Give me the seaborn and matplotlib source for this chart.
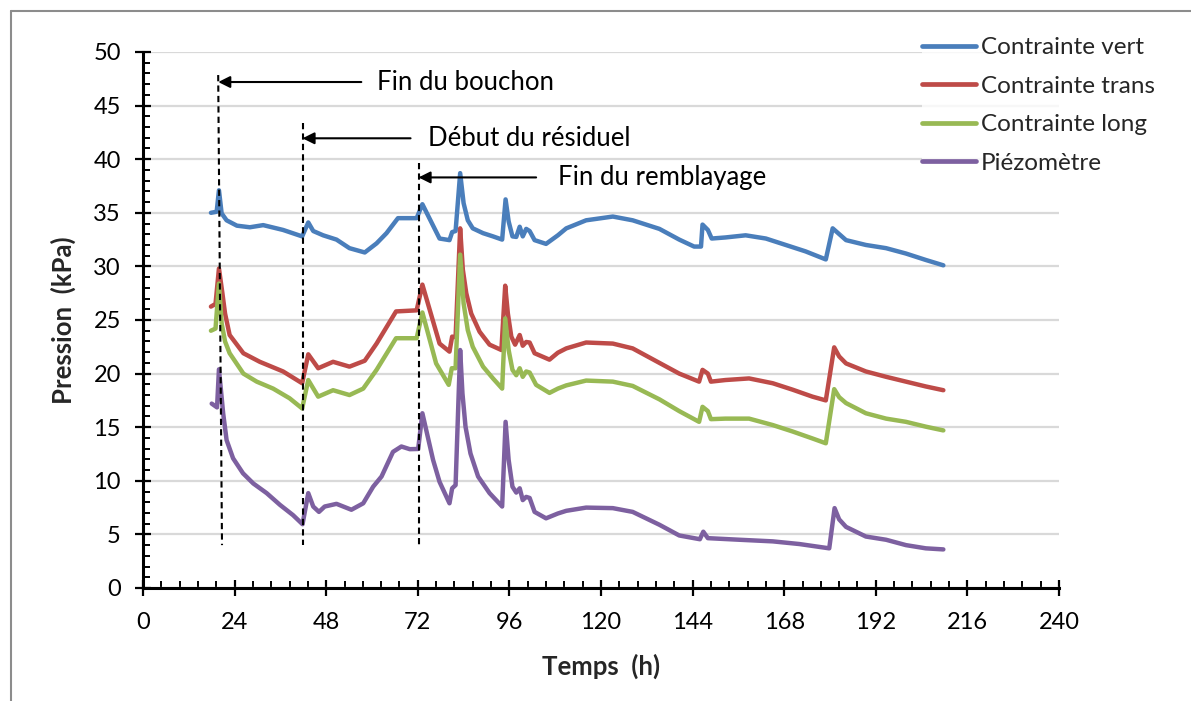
import numpy as np
import pandas as pd
import matplotlib
matplotlib.use("Agg")
import matplotlib.pyplot as plt
from matplotlib.lines import Line2D
from matplotlib.ticker import MultipleLocator
import seaborn as sns

# Time (h) and pressure (kPa) for each sensor
t_vert = [17.8, 19.3, 19.9, 20.6, 21.9, 24.6, 28.0, 31.5, 36.7, 41.7, 43.3, 44.6, 47.2, 50.7,
          54.1, 58.1, 61.2, 63.8, 66.8, 71.7, 73.2, 77.7, 80.3, 81.0, 81.9, 83.1, 84.0, 85.1,
          86.4, 89.1, 91.7, 94.1, 95.0, 95.8, 96.8, 97.8, 98.7, 99.5, 100.4, 101.3, 102.6,
          105.6, 108.7, 110.9, 116.1, 123.1, 128.3, 135.3, 140.5, 144.4, 146.2, 146.6, 148.0,
          149.0, 152.6, 157.9, 163.2, 168.4, 173.6, 178.9, 180.7, 184.2, 189.4, 194.7, 199.9,
          205.1, 209.7]
p_vert = [35.0, 35.1, 37.1, 34.95, 34.3, 33.8, 33.65, 33.85, 33.4, 32.8, 34.1, 33.3, 32.9, 32.5,
          31.7, 31.3, 32.15, 33.1, 34.5, 34.5, 35.8, 32.6, 32.45, 33.2, 33.3, 38.7, 35.9, 34.3,
          33.55, 33.1, 32.8, 32.5, 36.25, 34.2, 32.8, 32.75, 33.7, 32.8, 33.5, 33.3, 32.45,
          32.1, 32.9, 33.55, 34.3, 34.65, 34.3, 33.5, 32.5, 31.85, 31.85, 33.9, 33.4,
          32.6, 32.7, 32.9, 32.6, 32.0, 31.4, 30.65, 33.55, 32.45, 32.0, 31.7, 31.2,
          30.6, 30.1]

t_trans = [17.8, 19.0, 19.9, 20.8, 21.5, 22.7, 26.3, 30.6, 36.7, 41.7, 43.3, 45.9, 49.8, 54.1,
           58.1, 61.2, 66.3, 71.7, 73.2, 77.7, 80.3, 81.0, 81.9, 83.1, 83.8, 84.7, 86.0, 88.2,
           90.8, 93.9, 94.9, 95.6, 96.5, 97.5, 98.7, 99.5, 100.4, 101.3, 102.6, 106.5, 108.7,
           110.9, 116.1, 123.1, 128.3, 135.3, 140.5, 145.7, 146.6, 148.0, 148.8, 152.6, 158.8,
           165.0, 170.2, 175.4, 178.9, 181.1, 182.4, 184.2, 189.4, 194.7, 199.9, 205.1, 209.7]
p_trans = [26.25, 26.5, 29.8, 27.5, 25.6, 23.6, 21.9, 21.1, 20.2, 19.1, 21.8, 20.5, 21.1, 20.65,
           21.2, 22.8, 25.8, 25.9, 28.3, 22.8, 22.05, 23.45, 23.4, 33.55, 29.7, 27.5, 25.6, 23.9,
           22.7, 22.2, 28.2, 25.6, 23.45, 22.7, 23.6, 22.6, 22.95, 22.9, 21.9, 21.3, 21.95,
           22.35, 22.9, 22.8, 22.35, 21.0, 20.0, 19.25, 20.35, 20.0, 19.25, 19.4, 19.55,
           19.1, 18.5, 17.85, 17.5, 22.45, 21.6, 20.95, 20.2, 19.7, 19.25, 18.8, 18.45]

t_long = [17.8, 19.0, 19.9, 20.6, 21.5, 22.7, 26.3, 29.8, 34.1, 38.4, 41.7, 43.3, 45.9, 49.8,
          54.1, 57.7, 61.2, 66.3, 71.7, 73.2, 76.8, 80.1, 80.9, 81.9, 83.1, 84.0, 85.1, 86.4,
          89.1, 91.7, 94.1, 94.9, 95.8, 96.8, 97.8, 98.7, 99.5, 100.4, 101.3, 103.0, 106.5,
          108.7, 110.9, 116.1, 123.1, 128.3, 135.3, 140.5, 145.7, 146.6, 148.0, 148.8, 152.6,
          158.8, 165.0, 170.2, 175.4, 178.9, 181.1, 182.4, 184.2, 189.4, 194.7, 199.9, 205.1,
          209.7]
p_long = [24.0, 24.2, 28.4, 24.7, 23.0, 21.9, 20.0, 19.25, 18.6, 17.7, 16.75, 19.4, 17.85, 18.45,
          18.0, 18.6, 20.35, 23.3, 23.3, 25.7, 20.95, 18.95, 20.5, 20.5, 31.1, 26.55, 24.05, 22.5,
          20.65, 19.55, 18.6, 25.15, 22.2, 20.35, 19.85, 20.5, 19.7, 20.2, 20.1, 18.95, 18.2,
          18.6, 18.9, 19.35, 19.25, 18.85, 17.6, 16.5, 15.5, 16.9, 16.5, 15.75, 15.8,
          15.8, 15.2, 14.6, 13.95, 13.5, 18.55, 17.8, 17.25, 16.3, 15.8, 15.5, 15.05,
          14.7]

t_piezo = [18.0, 19.4, 19.9, 21.0, 21.9, 23.6, 26.2, 28.9, 32.4, 35.9, 39.3, 41.8, 43.3, 44.6,
           46.1, 47.6, 50.7, 54.6, 57.7, 60.3, 62.5, 65.5, 67.7, 69.9, 72.1, 73.2, 76.0, 77.7,
           80.3, 81.0, 81.9, 83.1, 83.7, 84.5, 85.8, 87.8, 90.8, 94.1, 95.0, 95.8, 96.8, 97.8,
           98.7, 99.5, 100.4, 101.3, 102.6, 105.6, 108.7, 110.9, 116.1, 123.1, 128.3, 135.3,
           140.5, 145.9, 146.8, 148.0, 156.3, 165.0, 172.0, 179.8, 181.2, 182.4, 184.2, 189.4,
           194.7, 199.9, 205.1, 209.7]
p_piezo = [17.2, 16.85, 20.4, 16.3, 13.8, 12.1, 10.7, 9.75, 8.85, 7.75, 6.8, 5.95, 8.85, 7.6,
           7.1, 7.6, 7.85, 7.3, 7.9, 9.45, 10.4, 12.7, 13.2, 12.95, 12.97, 16.3, 11.95, 9.9,
           7.9, 9.3, 9.6, 22.2, 18.15, 15.05, 12.55, 10.4, 8.85, 7.6, 15.5, 11.95, 9.45, 8.9,
           9.3, 8.2, 8.5, 8.4, 7.1, 6.5, 6.95, 7.2, 7.5, 7.45, 7.1, 5.9,
           4.9, 4.55, 5.25, 4.65, 4.5, 4.35, 4.1, 3.7, 7.45, 6.4, 5.7, 4.8,
           4.5, 4.0, 3.7, 3.6]

series_names = ["Contrainte vert", "Contrainte trans", "Contrainte long", "Piézomètre"]
series_colors = ["#4A7EBB", "#BE4B48", "#98B954", "#7D60A0"]

frames = []
for name, t, p in zip(series_names,
                      [t_vert, t_trans, t_long, t_piezo],
                      [p_vert, p_trans, p_long, p_piezo]):
    frames.append(pd.DataFrame({"Temps": t, "Pression": p, "Série": name}))
df = pd.concat(frames, ignore_index=True)

sns.set_style("white")
plt.rcParams["font.family"] = ["Lato", "DejaVu Sans"]
FS_TICK = 17
FS_TEXT = 18.5
FS_LEG = 17.5

fig = plt.figure(figsize=(11.91, 7.01), dpi=100)
ax = fig.add_axes([143 / 1191, 1 - 588 / 701, (1059 - 143) / 1191, (588 - 52) / 701])

sns.lineplot(data=df, x="Temps", y="Pression", hue="Série", hue_order=series_names,
             palette=series_colors, estimator=None, sort=False, lw=3.2, ax=ax, zorder=3)

ax.set_xlim(0, 240)
ax.set_ylim(0, 50)
ax.xaxis.set_major_locator(MultipleLocator(24))
ax.xaxis.set_minor_locator(MultipleLocator(4.8))
ax.yaxis.set_major_locator(MultipleLocator(5))
ax.yaxis.set_minor_locator(MultipleLocator(1))

ax.set_axisbelow(True)
ax.yaxis.grid(True, which="major", color="#D9D9D9", lw=1.6)
ax.xaxis.grid(False)

for s in ["top", "right"]:
    ax.spines[s].set_visible(False)
for s in ["left", "bottom"]:
    ax.spines[s].set_color("black")
    ax.spines[s].set_linewidth(2.2)

ax.tick_params(which="major", direction="inout", length=12, width=1.6, colors="black",
               labelsize=FS_TICK)
ax.tick_params(axis="y", which="major", pad=10)
ax.tick_params(axis="x", which="major", pad=11)
ax.tick_params(which="minor", direction="in", length=5, width=1.4, colors="black")
ax.tick_params(axis="x", which="both", bottom=True)
ax.tick_params(axis="y", which="both", left=True)

ax.set_xlabel("Temps  (h)", fontsize=FS_TEXT, fontweight="bold", labelpad=15)
ax.set_ylabel("Pression  (kPa)", fontsize=FS_TEXT, fontweight="bold", labelpad=12)

# Event markers: dashed verticals with arrows and captions
events = [
    ((19.7, 47.85), (20.7, 4.0), 47.2, 57.2, 61.4, "Fin du bouchon"),
    ((41.8, 43.4), (41.8, 4.0), 41.95, 70.1, 74.7, "Début du résiduel"),
    ((72.2, 39.6), (72.2, 4.0), 38.3, 103.0, 108.7, "Fin du remblayage"),
]
for (top, bot, ya, tail, tx, label) in events:
    ax.plot([top[0], bot[0]], [top[1], bot[1]], color="black", lw=1.5,
            dashes=(3, 2), zorder=4)
    xa = top[0] + (bot[0] - top[0]) * (top[1] - ya) / (top[1] - bot[1])
    ax.annotate("", xy=(xa, ya), xytext=(tail, ya),
                arrowprops=dict(arrowstyle="-|>,head_length=0.7,head_width=0.35",
                                color="black", lw=1.5, shrinkA=0, shrinkB=0),
                zorder=4)
    ax.text(tx, ya, label, fontsize=FS_TEXT, va="center", ha="left", color="black", zorder=4)

leg = ax.legend(loc="upper left", bbox_to_anchor=(922 / 1191, 1 - 37 / 701),
                bbox_transform=fig.transFigure, frameon=True, fontsize=FS_LEG,
                handlelength=2.22, handletextpad=0.2, labelspacing=0.72,
                borderpad=0.0, borderaxespad=0)
leg.get_frame().set_facecolor("white")
leg.get_frame().set_edgecolor("none")
for h in leg.get_lines():
    h.set_linewidth(3.4)

# Outer chart frame (left and top edges)
fig.add_artist(Line2D([11 / 1191, 11 / 1191], [0, 1 - 11 / 701], transform=fig.transFigure,
                      color="#8C8C8C", lw=1.5))
fig.add_artist(Line2D([11 / 1191, 1], [1 - 11 / 701, 1 - 11 / 701], transform=fig.transFigure,
                      color="#8C8C8C", lw=1.5))

fig.savefig("out.png", dpi=100, facecolor="white")
